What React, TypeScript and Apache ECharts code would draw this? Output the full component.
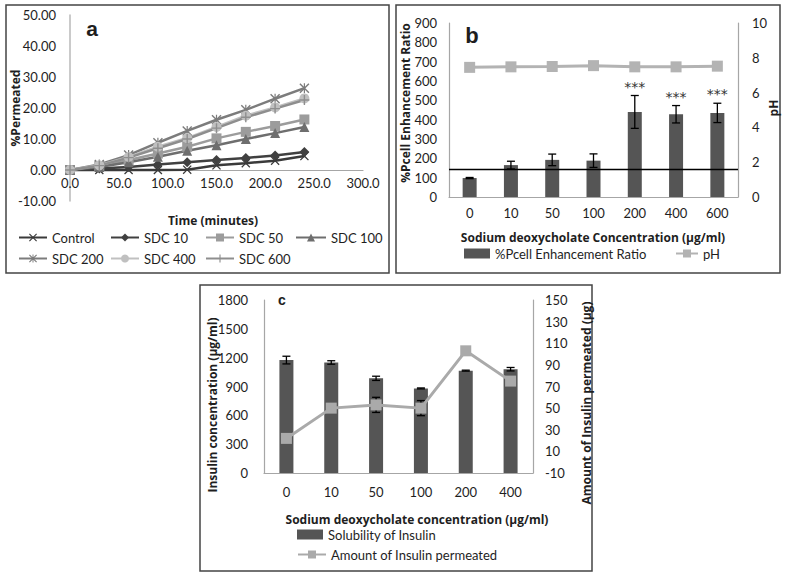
import React, { useEffect, useRef } from 'react';
import * as echarts from 'echarts';

// ---- Panel a data ----
const timePoints = [0, 30, 60, 90, 120, 150, 180, 210, 240];
const controlVals = [0, 0, 0, 0, 0.1, 1.5, 2.2, 3.0, 4.5];
const sdc10Vals = [0, 0.5, 1.0, 1.8, 2.5, 3.2, 3.9, 4.7, 5.8];
const sdc50Vals = [0, 1.3, 3.2, 5.3, 7.5, 10.2, 12.3, 14.2, 16.3];
const sdc100Vals = [0, 1.0, 2.5, 4.3, 6.2, 8.0, 10.0, 11.9, 13.9];
const sdc200Vals = [0, 1.8, 4.8, 8.8, 12.6, 16.2, 19.4, 23.0, 26.4];
const sdc400Vals = [0, 1.5, 4.2, 7.5, 10.3, 13.9, 17.5, 20.2, 23.1];
const sdc600Vals = [0, 1.4, 4.0, 7.0, 10.0, 13.5, 17.0, 19.8, 22.6];

// ---- Panel b data ----
const concB = ['0', '10', '50', '100', '200', '400', '600'];
const pcellRatio = [98, 165, 192, 188, 440, 428, 435];
const pcellErr = [3, 20, 30, 35, 85, 45, 50];
const pHVals = [7.45, 7.48, 7.5, 7.55, 7.48, 7.48, 7.52];
const starLabels = ['', '', '', '', '***', '***', '***'];
const refLineValue = 145;

// ---- Panel c data ----
const concC = ['0', '10', '50', '100', '200', '400'];
const solubility = [1175, 1150, 985, 880, 1065, 1080];
const solubilityErr = [40, 18, 22, 5, 5, 18];
const permeated = [22, 50, 53, 50, 103, 75];
const permeatedErr = [2, 2, 7, 7, 1, 2];

const FONT = 'Lato, "Open Sans", sans-serif';
const TITLE_FONT = '"Open Sans", "Noto Sans", sans-serif';
const TXT = '#1e1e1e';
const AXIS = '#a6a6a6';

const xSym = 'path://M1,0L5,4L9,0L10,1L6,5L10,9L9,10L5,6L1,10L0,9L4,5L0,1Z';
const starSym = 'path://M1,0L5,4L9,0L10,1L6,5L10,9L9,10L5,6L1,10L0,9L4,5L0,1Z M4.4,0H5.6V10H4.4Z';
const plusSym = 'path://M4.3,0H5.7V4.3H10V5.7H5.7V10H4.3V5.7H0V4.3H4.3Z';

function errRender(capHalf: number, stars?: string[]) {
  return (params: any, api: any) => {
    const idx = api.value(0);
    const lo = api.coord([idx, api.value(1)]);
    const hi = api.coord([idx, api.value(2)]);
    const st = { stroke: '#000', lineWidth: 1.3 };
    const children: any[] = [
      { type: 'line', shape: { x1: lo[0], y1: lo[1], x2: hi[0], y2: hi[1] }, style: st },
      { type: 'line', shape: { x1: hi[0] - capHalf, y1: hi[1], x2: hi[0] + capHalf, y2: hi[1] }, style: st },
      { type: 'line', shape: { x1: lo[0] - capHalf, y1: lo[1], x2: lo[0] + capHalf, y2: lo[1] }, style: st },
    ];
    if (stars && stars[params.dataIndex]) {
      children.push({
        type: 'text',
        x: hi[0],
        y: hi[1] - 9,
        style: {
          text: stars[params.dataIndex], align: 'center', verticalAlign: 'middle',
          fontSize: 14, fontFamily: '"DejaVu Sans", sans-serif', fill: '#333',
        },
      });
    }
    return { type: 'group', children };
  };
}

function lineSeries(name: string, vals: number[], color: string, symbol: string, size: number) {
  return {
    name,
    type: 'line',
    xAxisIndex: 0,
    yAxisIndex: 0,
    data: timePoints.map((t, i) => [t, vals[i]]),
    symbol,
    symbolSize: size,
    lineStyle: { color, width: 2.5 },
    itemStyle: { color },
  };
}

function legendItem(name: string, left: number, cy: number, w: number, icon?: string) {
  const l: any = {
    data: [icon ? { name, icon } : name],
    left,
    top: cy - 8,
    padding: 0,
    itemWidth: w,
    itemHeight: 10,
    textStyle: { fontFamily: FONT, fontSize: 13, color: TXT },
    selectedMode: false,
  };
  return l;
}

function txt(text: string, x: number, y: number, opts: any, rot = 0) {
  return {
    type: 'text',
    x,
    y,
    rotation: rot,
    style: { text, fill: TXT, align: 'center', verticalAlign: 'middle', ...opts },
  };
}

const noComma = (v: number) => String(v);

export default function App() {
  const ref = useRef<HTMLDivElement>(null);
  useEffect(() => {
    document.body.style.margin = '0';
    const chart = echarts.init(ref.current!, null, { renderer: 'svg' });
    const boldT = { fontWeight: 'bold', fontSize: 12, fontFamily: TITLE_FONT };
    const panelL = (s: number) => ({ fontWeight: 'bold', fontSize: s, fontFamily: '"Liberation Sans", Arial, sans-serif' });
    const option: any = {
      animation: false,
      backgroundColor: '#fff',
      textStyle: { fontFamily: FONT },
      grid: [
        { left: 70, top: 15, width: 293, height: 186 },
        { left: 449, top: 23, width: 289, height: 174 },
        { left: 264, top: 300, width: 269, height: 173 },
      ],
      xAxis: [
        {
          gridIndex: 0, type: 'value', min: 0, max: 300, interval: 50, offset: -31,
          axisLine: { show: true, onZero: false, lineStyle: { color: AXIS, width: 1.2 } },
          axisTick: { show: false }, splitLine: { show: false },
          axisLabel: { formatter: (v: number) => v.toFixed(1), margin: 6, fontSize: 13, color: TXT, fontFamily: FONT },
        },
        {
          gridIndex: 1, type: 'category', data: concB,
          axisLine: { lineStyle: { color: AXIS, width: 1.2 } },
          axisTick: { show: false },
          axisLabel: { margin: 9, fontSize: 13, color: TXT, fontFamily: FONT },
        },
        {
          gridIndex: 2, type: 'category', data: concC,
          axisLine: { lineStyle: { color: AXIS, width: 1.2 } },
          axisTick: { show: false },
          axisLabel: { margin: 12, fontSize: 13, color: TXT, fontFamily: FONT },
        },
      ],
      yAxis: [
        {
          gridIndex: 0, type: 'value', min: -10, max: 50, interval: 10,
          axisLine: { show: true, onZero: false, lineStyle: { color: '#b8b8b8', width: 1.5 } },
          axisTick: { show: false }, splitLine: { show: false },
          axisLabel: { formatter: (v: number) => v.toFixed(2), margin: 14, fontSize: 13, color: TXT, fontFamily: FONT },
        },
        {
          gridIndex: 1, type: 'value', min: 0, max: 900, interval: 100, position: 'left',
          axisLine: { show: true, lineStyle: { color: AXIS, width: 1.2 } },
          axisTick: { show: false }, splitLine: { show: false },
          axisLabel: { margin: 12, fontSize: 13, color: TXT, fontFamily: FONT, formatter: noComma },
        },
        {
          gridIndex: 1, type: 'value', min: 0, max: 10, interval: 2, position: 'right',
          axisLine: { show: true, lineStyle: { color: AXIS, width: 1.2 } },
          axisTick: { show: false }, splitLine: { show: false },
          axisLabel: { margin: 14, fontSize: 13, color: TXT, fontFamily: FONT, formatter: noComma },
        },
        {
          gridIndex: 2, type: 'value', min: 0, max: 1800, interval: 300, position: 'left',
          axisLine: { show: true, lineStyle: { color: AXIS, width: 1.2 } },
          axisTick: { show: false }, splitLine: { show: false },
          axisLabel: { margin: 16, fontSize: 13, color: TXT, fontFamily: FONT, formatter: noComma },
        },
        {
          gridIndex: 2, type: 'value', min: -10, max: 150, interval: 20, position: 'right',
          axisLine: { show: true, lineStyle: { color: AXIS, width: 1.2 } },
          axisTick: { show: false }, splitLine: { show: false },
          axisLabel: { margin: 12, fontSize: 13, color: TXT, fontFamily: FONT, formatter: noComma },
        },
      ],
      legend: [
        legendItem('Control', 18, 239, 28),
        legendItem('SDC 10', 110, 239, 28),
        legendItem('SDC 50', 205, 239, 28),
        legendItem('SDC 100', 295, 239, 30),
        legendItem('SDC 200', 18, 260, 28),
        legendItem('SDC 400', 110, 260, 28),
        legendItem('SDC 600', 205, 260, 28),
        legendItem('%Pcell Enhancement Ratio', 464, 255, 26, 'rect'),
        legendItem('pH', 675, 255, 22),
        legendItem('Solubility of Insulin', 297, 536, 26, 'rect'),
        legendItem('Amount of Insulin permeated', 297, 556, 28),
      ],
      series: [
        lineSeries('Control', controlVals, '#3a3a3a', xSym, 9),
        lineSeries('SDC 10', sdc10Vals, '#404040', 'diamond', 10),
        lineSeries('SDC 50', sdc50Vals, '#9c9c9c', 'rect', 10),
        lineSeries('SDC 100', sdc100Vals, '#6e6e6e', 'triangle', 10),
        lineSeries('SDC 200', sdc200Vals, '#7c7c7c', starSym, 10),
        lineSeries('SDC 400', sdc400Vals, '#c0c0c0', 'circle', 10),
        lineSeries('SDC 600', sdc600Vals, '#8e8e8e', plusSym, 10),
        {
          name: '%Pcell Enhancement Ratio', type: 'bar', xAxisIndex: 1, yAxisIndex: 1,
          data: pcellRatio, barWidth: 14, itemStyle: { color: '#555555' },
          markLine: {
            silent: true, symbol: ['none', 'none'], label: { show: false },
            lineStyle: { color: '#000', width: 1.3, type: 'solid' },
            data: [{ yAxis: refLineValue }],
          },
        },
        {
          name: 'pcellErr', type: 'custom', xAxisIndex: 1, yAxisIndex: 1,
          data: concB.map((_, i) => [i, pcellRatio[i] - pcellErr[i], pcellRatio[i] + pcellErr[i]]),
          encode: { x: 0, y: [1, 2] },
          renderItem: errRender(4, starLabels), z: 3,
        },
        {
          name: 'pH', type: 'line', xAxisIndex: 1, yAxisIndex: 2, data: pHVals,
          symbol: 'rect', symbolSize: 11,
          lineStyle: { color: '#b3b3b3', width: 3 }, itemStyle: { color: '#b3b3b3' }, z: 4,
        },
        {
          name: 'Solubility of Insulin', type: 'bar', xAxisIndex: 2, yAxisIndex: 3,
          data: solubility, barWidth: 14, itemStyle: { color: '#555555' },
        },
        {
          name: 'solErr', type: 'custom', xAxisIndex: 2, yAxisIndex: 3,
          data: concC.map((_, i) => [i, solubility[i] - solubilityErr[i], solubility[i] + solubilityErr[i]]),
          encode: { x: 0, y: [1, 2] },
          renderItem: errRender(4), z: 3,
        },
        {
          name: 'permErr', type: 'custom', xAxisIndex: 2, yAxisIndex: 4,
          data: concC.map((_, i) => [i, permeated[i] - permeatedErr[i], permeated[i] + permeatedErr[i]]),
          encode: { x: 0, y: [1, 2] },
          renderItem: errRender(4), z: 3,
        },
        {
          name: 'Amount of Insulin permeated', type: 'line', xAxisIndex: 2, yAxisIndex: 4, data: permeated,
          symbol: 'rect', symbolSize: 11,
          lineStyle: { color: '#aaaaaa', width: 3 }, itemStyle: { color: '#aaaaaa' }, z: 4,
        },
      ],
      graphic: [
        { type: 'rect', shape: { x: 6, y: 5, width: 383, height: 268 }, style: { fill: 'none', stroke: '#444', lineWidth: 1.5 } },
        { type: 'rect', shape: { x: 396, y: 5, width: 384, height: 268 }, style: { fill: 'none', stroke: '#444', lineWidth: 1.5 } },
        { type: 'rect', shape: { x: 200, y: 285, width: 392, height: 286 }, style: { fill: 'none', stroke: '#444', lineWidth: 1.5 } },
        txt('a', 92, 28, panelL(21)),
        txt('b', 472, 35, panelL(22)),
        txt('c', 282, 300, panelL(14)),
        txt('%Permeated', 15, 108, boldT, Math.PI / 2),
        txt('Time (minutes)', 213, 220, boldT),
        txt('%Pcell Enhancement Ratio', 405, 103, boldT, Math.PI / 2),
        txt('pH', 773, 108, boldT, Math.PI / 2),
        txt('Sodium deoxycholate Concentration (µg/ml)', 593, 237, boldT),
        txt('Insulin concentration (µg/ml)', 212, 405, boldT, Math.PI / 2),
        txt('Amount of Insulin permeated (µg)', 586, 403, boldT, Math.PI / 2),
        txt('Sodium deoxycholate concentration (µg/ml)', 417, 519, boldT),
      ],
    };
    chart.setOption(option);
    return () => chart.dispose();
  }, []);
  return <div ref={ref} style={{ width: 787, height: 579 }} />;
}
